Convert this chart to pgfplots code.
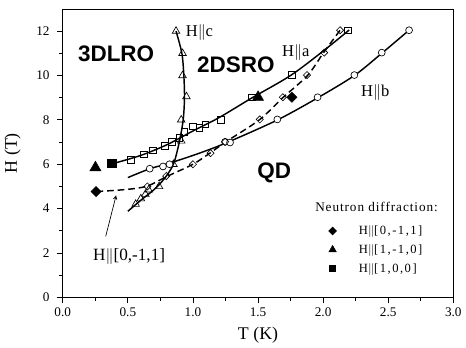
\documentclass[border=0pt]{standalone}
\usepackage{pgfplots}
\pgfplotsset{compat=1.18}
\usepackage{fontspec}
\setmainfont{Liberation Serif}
\newfontfamily\lsans{Liberation Sans}
\newfontfamily\spaced{Liberation Serif}[LetterSpace=12]
\newfontfamily\spacedt{Liberation Serif}[LetterSpace=7]
\begin{document}
\begin{tikzpicture}
\begin{axis}[
  scale only axis,
  width=295.5pt, height=218.25pt,
  xmin=0, xmax=3, ymin=0, ymax=13,
  xtick={0,0.5,1,1.5,2,2.5,3},
  ytick={0,2,4,6,8,10,12},
  minor x tick num=1, minor y tick num=1,
  xtick pos=bottom, ytick pos=left,
  tick align=outside,
  major tick length=4.5pt, minor tick length=2.5pt,
  xticklabel style={/pgf/number format/.cd, fixed, fixed zerofill, precision=1},
  yticklabel style={xshift=-2pt},
  /pgf/number format/assume math mode=true,
  tick label style={font=\fontsize{10}{12}\selectfont},
  xlabel={T (K)}, ylabel={H (T)},
  label style={font=\fontsize{13.5}{15}\selectfont},
  xlabel style={yshift=-0.5pt},
  ylabel style={yshift=5pt},
  axis line style={line width=0.6pt},
  every tick/.style={line width=0.6pt, black},
  legend style={at={(axis cs:2.01,3.49)}, anchor=north west, draw=none, fill=none,
    font=\spaced\fontsize{9.5}{11}\selectfont, row sep=2pt, column sep=15pt},
  legend cell align=left,
]
% H||c curve and points
\addplot[black, line width=1.1pt, smooth, forget plot] coordinates {
 (0.50,3.88) (0.60,4.38) (0.70,4.85) (0.78,5.35) (0.85,6.0) (0.895,7.0)
 (0.925,8.0) (0.935,9.0) (0.93,10.0) (0.915,11.0) (0.87,12.0)};
\addplot[only marks, mark=triangle, mark size=3.3pt, mark options={fill=white, line width=0.5pt}, forget plot] coordinates {
 (0.56,4.2) (0.60,4.45) (0.635,4.65) (0.66,4.85) (0.74,5.0) (0.85,6.0)
 (0.91,7.05) (0.91,8.0) (0.95,9.05) (0.92,10.0) (0.92,11.0) (0.87,12.0)};
% H||a curve and points
\addplot[black, line width=1.1pt, smooth, forget plot] coordinates {
 (0.38,6.02) (0.6,6.4) (0.8,6.88) (1.0,7.5) (1.2,8.1) (1.45,8.98) (1.75,10.0) (2.0,11.1) (2.2,12.05)};
\addplot[only marks, mark=square, mark size=2.5pt, mark options={fill=white, line width=0.5pt}, forget plot] coordinates {
 (0.523,6.2) (0.625,6.44) (0.693,6.62) (0.785,6.83) (0.84,7.01) (0.896,7.19)
 (0.934,7.46) (1.0,7.71) (1.05,7.64) (1.094,7.8) (1.213,8.01) (1.45,9.02) (1.76,10.02) (2.19,12.04)};
% H||b curve and points
\addplot[black, line width=1.1pt, smooth, forget plot] coordinates {
 (0.5,5.4) (0.67,5.8) (0.82,6.05) (1.05,6.5) (1.27,7.0) (1.65,8.0) (1.96,9.0) (2.24,10.0) (2.45,11.0) (2.66,12.04)};
\addplot[only marks, mark=*, mark size=2.6pt, mark options={fill=white, line width=0.5pt}, forget plot] coordinates {
 (0.668,5.8) (0.77,5.9) (0.82,6.0) (1.247,7.01) (1.285,6.98) (1.648,8.02) (1.957,9.02) (2.24,10.02) (2.45,11.03) (2.66,12.04)};
% H||[0,-1,1] dashed curve and points
\addplot[black, line width=1.1pt, dash pattern=on 5pt off 3pt, smooth, forget plot] coordinates {
 (0.26,4.77) (0.5,4.87) (0.65,5.02) (0.8,5.45) (1.0,6.0) (1.13,6.5) (1.25,7.0) (1.51,8.0) (1.69,9.0) (1.88,10.0) (2.0,11.0) (2.13,12.04)};
\addplot[only marks, mark=square, mark size=1.9pt, mark options={rotate=45, fill=white, line width=0.5pt, solid}, forget plot] coordinates {
 (0.65,5.0) (0.795,5.47) (1.0,6.0) (1.135,6.5) (1.247,7.01) (1.513,8.02) (1.69,9.02) (1.876,10.02) (2.008,11.03) (2.13,12.04)};
% neutron diffraction (filled)
\addplot[only marks, mark=square*, mark size=2.7pt, mark options={rotate=45, fill=black}, forget plot] coordinates {(0.256,4.77) (1.76,9.02)};
\addplot[only marks, mark=triangle*, mark size=4.8pt, mark options={fill=black}, forget plot] coordinates {(0.251,5.85) (1.50,9.02)};
\addplot[only marks, mark=square*, mark size=3.3pt, mark options={fill=black}, forget plot] coordinates {(0.378,6.04)};
% legend
\addlegendimage{only marks, mark=square*, mark size=2.1pt, mark options={rotate=45, fill=black}}
\addlegendentry{H$\|$[0,-1,1]}
\addlegendimage{only marks, mark=triangle*, mark size=3.3pt, mark options={fill=black}}
\addlegendentry{H$\|$[1,-1,0]}
\addlegendimage{only marks, mark=square*, mark size=2.3pt, mark options={fill=black}}
\addlegendentry{H$\|$[1,0,0]}
% texts
\node[font=\lsans\bfseries\fontsize{17}{19}\selectfont] at (axis cs:0.41,11.0) {3DLRO};
\node[font=\lsans\bfseries\fontsize{17}{19}\selectfont] at (axis cs:1.33,10.5) {2DSRO};
\node[font=\lsans\bfseries\fontsize{17}{19}\selectfont] at (axis cs:1.625,5.6) {QD};
\node[font=\fontsize{12.5}{14}\selectfont] at (axis cs:1.05,11.95) {H$\|$c};
\node[font=\fontsize{12.5}{14}\selectfont] at (axis cs:1.79,11.05) {H$\|$a};
\node[font=\fontsize{12.5}{14}\selectfont] at (axis cs:2.40,9.25) {H$\|$b};
\node[font=\fontsize{13}{15}\selectfont] at (axis cs:0.51,1.83) {H$\|$[0,-1,1]};
\node[font=\spacedt\fontsize{10}{12}\selectfont] at (axis cs:2.41,4.07) {Neutron diffraction:};
\draw[-stealth, line width=0.5pt] (axis cs:0.33,2.75) -- (axis cs:0.41,4.6);
\end{axis}
\path (current axis.north) ++(0,6.75pt);
\end{tikzpicture}
\end{document}
